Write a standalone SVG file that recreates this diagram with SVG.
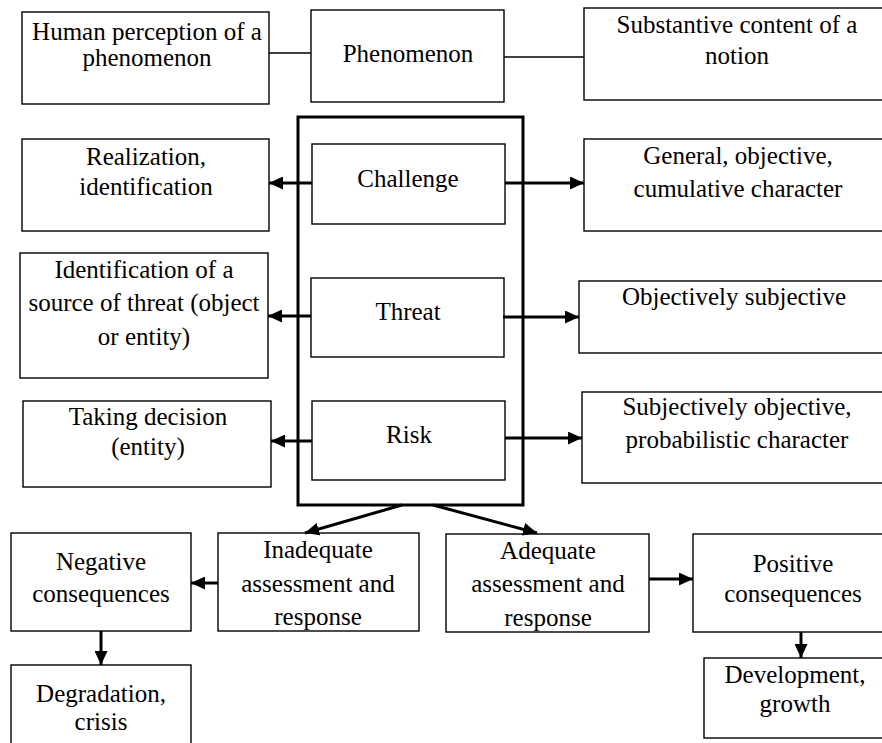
<svg xmlns="http://www.w3.org/2000/svg" width="882" height="743" viewBox="0 0 882 743">
<style>
.box{fill:#fff;stroke:#000;stroke-width:1.4}
.outer{fill:none;stroke:#000;stroke-width:3}
.t{font-family:"Liberation Serif","Times New Roman",serif;font-size:25px;fill:#000;text-anchor:middle}
.ln{stroke:#000;stroke-width:1.4;fill:none}
.ar{stroke:#000;stroke-width:3;fill:none;marker-end:url(#ah)}
</style>
<defs>
<marker id="ah" markerUnits="userSpaceOnUse" markerWidth="14" markerHeight="13" refX="14" refY="6.5" orient="auto" viewBox="0 0 14 13">
<path d="M0,0 L14,6.5 L0,13 z" fill="#000"/>
</marker>
</defs>
<rect width="882" height="743" fill="#fff"/>
<g id="outer-frame"><rect class="outer" x="298" y="117" width="225" height="388"/></g>
<g id="n-human"><rect class="box" x="22" y="12" width="247" height="92"/><text class="t" x="147" y="40">Human perception of a</text><text class="t" x="147" y="66">phenomenon</text></g>
<g id="n-phenomenon"><rect class="box" x="311" y="10" width="193" height="92"/><text class="t" x="408" y="62">Phenomenon</text></g>
<g id="n-substantive"><rect class="box" x="584" y="8" width="302" height="92"/><text class="t" x="737" y="33">Substantive content of a</text><text class="t" x="737" y="64">notion</text></g>
<g id="n-realization"><rect class="box" x="22" y="139" width="247" height="92"/><text class="t" x="146" y="165">Realization,</text><text class="t" x="146" y="195">identification</text></g>
<g id="n-challenge"><rect class="box" x="312" y="144" width="193" height="80"/><text class="t" x="408" y="187">Challenge</text></g>
<g id="n-general"><rect class="box" x="584" y="139" width="302" height="92"/><text class="t" x="738" y="164">General, objective,</text><text class="t" x="738" y="197">cumulative character</text></g>
<g id="n-identification"><rect class="box" x="20" y="253" width="248" height="125"/><text class="t" x="144" y="278">Identification of a</text><text class="t" x="144" y="311">source of threat (object</text><text class="t" x="144" y="345">or entity)</text></g>
<g id="n-threat"><rect class="box" x="311" y="278" width="193" height="79"/><text class="t" x="408" y="320">Threat</text></g>
<g id="n-objectively"><rect class="box" x="579" y="281" width="307" height="72"/><text class="t" x="734" y="305">Objectively subjective</text></g>
<g id="n-taking"><rect class="box" x="23" y="401" width="248" height="86"/><text class="t" x="148" y="425">Taking decision</text><text class="t" x="148" y="455">(entity)</text></g>
<g id="n-risk"><rect class="box" x="312" y="401" width="193" height="79"/><text class="t" x="409" y="443">Risk</text></g>
<g id="n-subjectively"><rect class="box" x="582" y="392" width="304" height="91"/><text class="t" x="737" y="415">Subjectively objective,</text><text class="t" x="737" y="448">probabilistic character</text></g>
<g id="n-negative"><rect class="box" x="11" y="533" width="180" height="98"/><text class="t" x="101" y="570">Negative</text><text class="t" x="101" y="602">consequences</text></g>
<g id="n-inadequate"><rect class="box" x="218" y="533" width="201" height="98"/><text class="t" x="318" y="558">Inadequate</text><text class="t" x="318" y="592">assessment and</text><text class="t" x="318" y="625">response</text></g>
<g id="n-adequate"><rect class="box" x="446" y="534" width="203" height="98"/><text class="t" x="548" y="559">Adequate</text><text class="t" x="548" y="592">assessment and</text><text class="t" x="548" y="626">response</text></g>
<g id="n-positive"><rect class="box" x="693" y="534" width="199" height="98"/><text class="t" x="793" y="572">Positive</text><text class="t" x="793" y="602">consequences</text></g>
<g id="n-degradation"><rect class="box" x="11" y="665" width="180" height="90"/><text class="t" x="101" y="702">Degradation,</text><text class="t" x="101" y="730">crisis</text></g>
<g id="n-development"><rect class="box" x="704" y="658" width="186" height="80"/><text class="t" x="795" y="683">Development,</text><text class="t" x="795" y="712">growth</text></g>
<g id="connectors">
<line class="ln" x1="269" y1="53" x2="311" y2="53"/>
<line class="ln" x1="504" y1="57" x2="584" y2="57"/>
<line class="ar" x1="312" y1="183" x2="269" y2="183"/>
<line class="ar" x1="505" y1="183" x2="584" y2="183"/>
<line class="ar" x1="311" y1="316" x2="268" y2="316"/>
<line class="ar" x1="503" y1="317" x2="579" y2="317"/>
<line class="ar" x1="312" y1="441" x2="271" y2="441"/>
<line class="ar" x1="505" y1="438" x2="582" y2="438"/>
<line class="ar" x1="402" y1="505" x2="305" y2="533"/>
<line class="ar" x1="433" y1="505" x2="537" y2="533"/>
<line class="ar" x1="218" y1="583" x2="191" y2="583"/>
<line class="ar" x1="649" y1="579" x2="693" y2="579"/>
<line class="ar" x1="101" y1="631" x2="101" y2="665"/>
<line class="ar" x1="801" y1="632" x2="801" y2="658"/>
</g>
</svg>
